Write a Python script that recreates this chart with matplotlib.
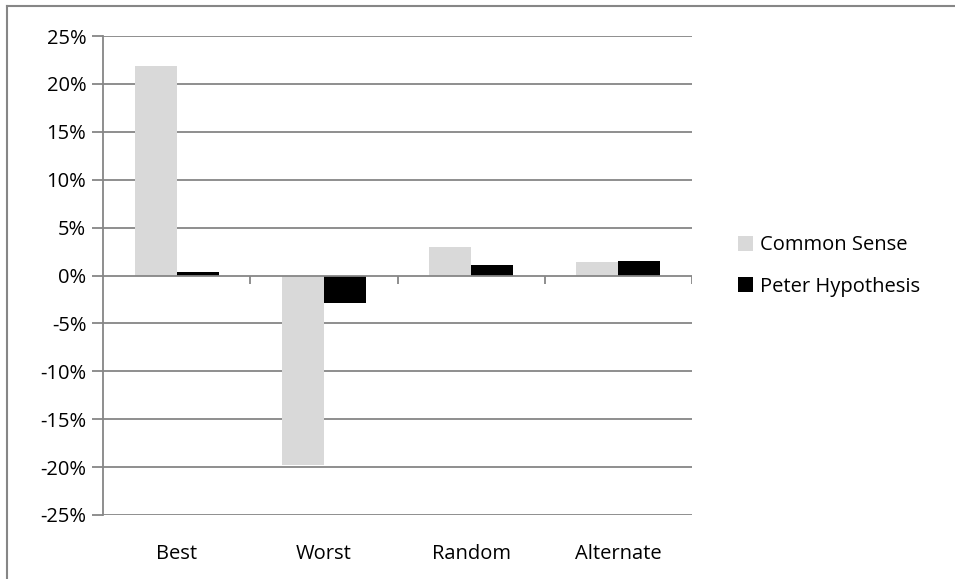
import matplotlib.pyplot as plt
import numpy as np
from matplotlib.lines import Line2D

plt.rcParams['font.family'] = ['Open Sans', 'DejaVu Sans']

# data
categories = ['Best', 'Worst', 'Random', 'Alternate']
common_sense = [21.9, -19.8, 2.95, 1.4]
peter = [0.35, -2.9, 1.05, 1.5]
y_ticks = [25, 20, 15, 10, 5, 0, -5, -10, -15, -20, -25]

grid_col = '#868686'
fs = 14.5

fig = plt.figure(figsize=(9.55, 5.79), dpi=100)
ax = fig.add_axes([103/955, 1-515/579, (692-103)/955, (515-36)/579])

x = np.arange(len(categories))
w = 0.286
ax.bar(x - w/2, common_sense, w, color='#D9D9D9', label='Common Sense', zorder=3)
ax.bar(x + w/2, peter, w, color='black', label='Peter Hypothesis', zorder=3)

ax.set_xlim(-0.5, len(categories) - 0.5)
ax.set_ylim(-25, 25)
ax.set_yticks(y_ticks)
ax.set_yticklabels(['%d%%' % v for v in y_ticks])
for v in y_ticks:
    if v != 0:
        ax.axhline(v, color=grid_col, lw=1.3, zorder=1)
# zero axis with category separators
ax.axhline(0, color=grid_col, lw=1.3, zorder=4)
ax.vlines(np.arange(len(categories)) + 0.5, -0.85, 0, color=grid_col, lw=1.3, zorder=4)

ax.set_xticks(x)
ax.set_xticklabels(categories)
ax.tick_params(axis='x', length=0, pad=21, labelsize=fs)
ax.tick_params(axis='y', length=8, width=1.3, color=grid_col, pad=4, labelsize=fs)

for s in ['top', 'right', 'bottom']:
    ax.spines[s].set_visible(False)
ax.spines['left'].set_color(grid_col)
ax.spines['left'].set_linewidth(1.3)

ax.legend(loc='center left', bbox_to_anchor=(720/955, 1-266/579), bbox_transform=fig.transFigure,
          frameon=False, fontsize=fs, handlelength=0.75, handleheight=0.75,
          handletextpad=0.35, labelspacing=1.05)

# outer chart frame (top and left edges visible)
fig.add_artist(Line2D([7/955, 7/955], [0, 1-6/579], color=grid_col, lw=1.5, transform=fig.transFigure))
fig.add_artist(Line2D([7/955, 1], [1-6/579, 1-6/579], color=grid_col, lw=1.5, transform=fig.transFigure))

fig.savefig('out.png', dpi=100)
